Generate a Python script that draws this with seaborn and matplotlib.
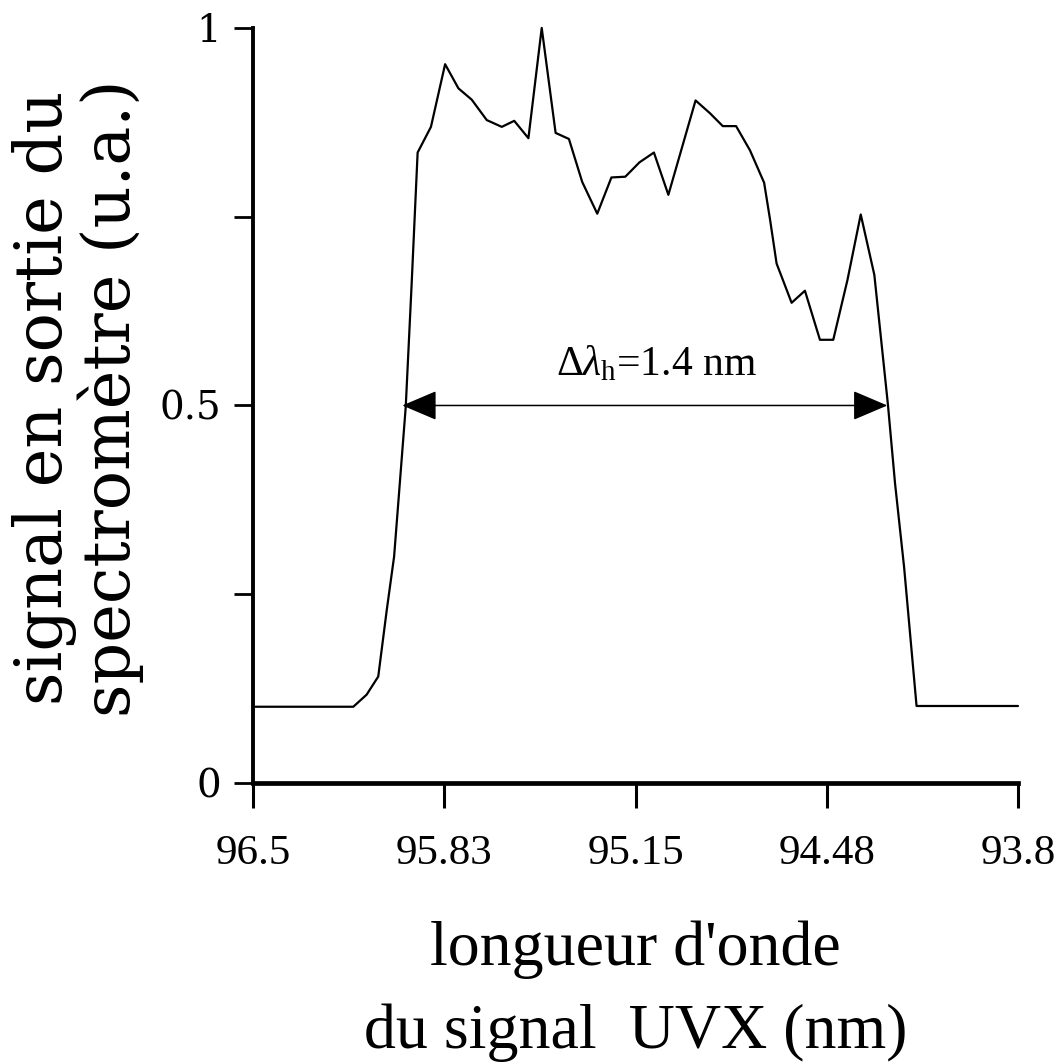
import numpy as np
import pandas as pd
import matplotlib
matplotlib.use("Agg")
import matplotlib.pyplot as plt
import seaborn as sns

# Spectrum at the spectrometer output (arbitrary units) versus XUV wavelength (nm)
wavelength_nm = [96.5, 96.146, 96.099, 96.058, 96.028, 96.002, 95.961, 95.940,
                 95.919, 95.872, 95.822, 95.775, 95.728, 95.675, 95.622, 95.578,
                 95.528, 95.481, 95.432, 95.385, 95.338, 95.285, 95.235, 95.186,
                 95.136, 95.085, 95.034, 94.938, 94.887, 94.842, 94.795, 94.746,
                 94.696, 94.675, 94.652, 94.599, 94.552, 94.499, 94.452, 94.402,
                 94.355, 94.307, 94.259, 94.234, 94.202, 94.158, 93.8]
signal_au = [0.101, 0.101, 0.117, 0.141, 0.229, 0.300, 0.498, 0.662,
             0.835, 0.869, 0.952, 0.920, 0.905, 0.878, 0.869, 0.877,
             0.854, 1.000, 0.861, 0.853, 0.796, 0.754, 0.802, 0.803,
             0.822, 0.835, 0.779, 0.904, 0.887, 0.870, 0.870, 0.838,
             0.795, 0.746, 0.688, 0.636, 0.652, 0.587, 0.587, 0.666,
             0.753, 0.673, 0.501, 0.397, 0.286, 0.102, 0.102]

# Half-maximum width marker
fwhm_left_nm = 95.973
fwhm_right_nm = 94.261
fwhm_level = 0.5
fwhm_label = r"$\Delta\lambda_{\mathrm{h}}$=1.4 nm"

x_ticks = [96.5, 95.825, 95.15, 94.475, 93.8]
x_tick_labels = ["96.5", "95.83", "95.15", "94.48", "93.8"]
y_ticks = [0, 0.25, 0.5, 0.75, 1.0]
y_tick_labels = ["0", "", "0.5", "", "1"]

x_label = "longueur d'onde\ndu signal  UVX (nm)"
y_label = "signal en sortie du\nspectromètre (u.a.)"

sns.set_theme(style="ticks")
plt.rcParams["font.family"] = ["Liberation Serif", "DejaVu Serif"]
plt.rcParams["mathtext.fontset"] = "custom"
plt.rcParams["mathtext.rm"] = "Liberation Serif"
plt.rcParams["mathtext.it"] = "Liberation Serif:italic"
for key in ("text.color", "axes.labelcolor", "xtick.color", "ytick.color",
            "axes.edgecolor"):
    plt.rcParams[key] = "black"

df = pd.DataFrame({"wl": wavelength_nm, "sig": signal_au})

fig = plt.figure(figsize=(10.56, 10.63), dpi=100)
ax = fig.add_axes([0.2396, 0.2634, 0.7244, 0.7103])

sns.lineplot(data=df, x="wl", y="sig", sort=False, estimator=None,
             color="black", linewidth=1.6, ax=ax)
for line in ax.lines:
    line.set_clip_on(False)

ax.set_xlim(96.5, 93.8)
ax.set_ylim(0, 1)

sns.despine(ax=ax)
ax.spines["bottom"].set_linewidth(3.4)
ax.spines["left"].set_linewidth(2.8)

ax.set_xticks(x_ticks)
ax.set_xticklabels(x_tick_labels, fontsize=31, family="Liberation Serif")
ax.set_yticks(y_ticks)
ax.set_yticklabels(y_tick_labels, fontsize=28, family="DejaVu Serif")
ax.tick_params(axis="x", direction="out", length=18, width=2.2, pad=19,
               colors="black")
ax.tick_params(axis="y", direction="out", length=14, width=2.0, pad=9,
               colors="black")

ax.set_xlabel(x_label, fontsize=46, family="Liberation Serif",
              linespacing=1.55, va="top", color="black")
ax.xaxis.set_label_coords(0.5, -0.182)
ax.set_ylabel(y_label, fontsize=47, family="DejaVu Serif",
              linespacing=1.0, va="center", color="black")
ax.yaxis.set_label_coords(-0.229, 0.51)

# Double-headed arrow across the half-maximum width
ax.annotate("", xy=(fwhm_right_nm, fwhm_level), xytext=(fwhm_left_nm, fwhm_level),
            arrowprops=dict(arrowstyle="<|-|>,head_length=0.4,head_width=0.17",
                            mutation_scale=55, color="black", lw=1.1,
                            shrinkA=0, shrinkB=0))
ax.text(95.431, 0.540, fwhm_label, fontsize=30, ha="left", va="baseline",
        family="Liberation Serif", color="black")

fig.savefig("out.png", dpi=100, facecolor="white")
